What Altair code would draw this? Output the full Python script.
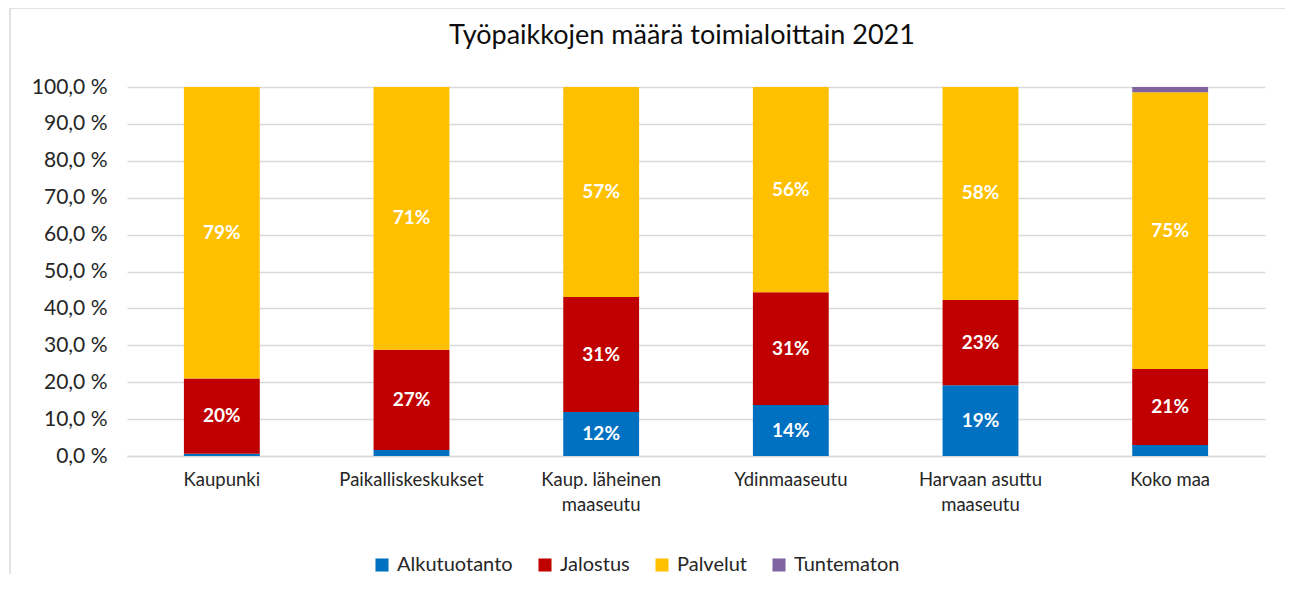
import altair as alt
import pandas as pd

categories = ["Kaupunki", "Paikalliskeskukset", "Kaup. läheinen maaseutu",
              "Ydinmaaseutu", "Harvaan asuttu maaseutu", "Koko maa"]
series = ["Alkutuotanto", "Jalostus", "Palvelut", "Tuntematon"]
alkutuotanto = [0.6, 1.6, 11.9, 13.8, 19.2, 3.0]
jalostus = [20.4, 27.2, 31.2, 30.6, 23.1, 20.6]
palvelut = [79.0, 71.2, 56.9, 55.6, 57.7, 75.0]
tuntematon = [0.0, 0.0, 0.0, 0.0, 0.0, 1.4]
colors = ["#0070C0", "#C00000", "#FFC000", "#8064A2"]
y_ticks = [0, 10, 20, 30, 40, 50, 60, 70, 80, 90, 100]
title_text = "Työpaikkojen määrä toimialoittain 2021"

rows = []
values = [alkutuotanto, jalostus, palvelut, tuntematon]
for i, cat in enumerate(categories):
    cum = 0.0
    for s, vals in zip(series, values):
        v = vals[i]
        rows.append({"cat": cat, "series": s, "value": v, "start": cum,
                     "end": cum + v, "mid": cum + v / 2,
                     "label": f"{round(v)}%"})
        cum += v
df = pd.DataFrame(rows)

FONT = "Lato"
W, H = 1138, 369

x_axis = alt.Axis(labelAngle=0, labelFontSize=18.5, labelFont=FONT,
                  labelColor="#262626", domainColor="#d9d9d9",
                  domainWidth=1.5, ticks=False, labelPadding=14,
                  labelLineHeight=25, title=None,
                  labelExpr="datum.label == 'Kaup. läheinen maaseutu' ? ['Kaup. läheinen', 'maaseutu'] : datum.label == 'Harvaan asuttu maaseutu' ? ['Harvaan asuttu', 'maaseutu'] : datum.label")
y_axis = alt.Axis(values=y_ticks, labelFontSize=21, labelFont=FONT,
                  labelColor="#262626", domain=False, ticks=False,
                  labelPadding=20, gridColor="#d9d9d9", gridWidth=1.5,
                  labelOverlap=False, title=None,
                  labelExpr="replace(format(datum.value, '.1f'), '.', ',') + ' %'")
x_scale = alt.Scale(paddingInner=0.6, paddingOuter=0.3)
y_scale = alt.Scale(domain=[0, 100], nice=False)

bars = alt.Chart(df).mark_bar().encode(
    x=alt.X("cat:N", sort=categories, title=None, scale=x_scale, axis=x_axis),
    y=alt.Y("start:Q", title=None, scale=y_scale, axis=y_axis),
    y2="end:Q",
    color=alt.Color("series:N", sort=series,
                    scale=alt.Scale(domain=series, range=colors),
                    legend=alt.Legend(title=None, orient="none", direction="horizontal",
                                      legendX=245, legendY=468, columns=4,
                                      symbolType="square", symbolSize=170,
                                      symbolStrokeWidth=0, labelFontSize=20,
                                      labelFont=FONT, labelColor="#262626",
                                      columnPadding=22, labelOffset=5)),
    order=alt.Order("start:Q"),
)

labels = alt.Chart(df).transform_filter(
    "datum.value >= 10"
).mark_text(color="white", fontWeight="bold", fontSize=19, font=FONT,
            baseline="middle").encode(
    x=alt.X("cat:N", sort=categories, title=None, scale=x_scale, axis=x_axis),
    y=alt.Y("mid:Q", title=None, scale=y_scale, axis=y_axis),
    text="label:N",
)

frame = alt.Chart(pd.DataFrame({"k": [0]})).mark_rect(
    fill=None, stroke="#d9d9d9", strokeWidth=1.5, clip=False
).encode(x=alt.value(-117), x2=alt.value(W + 80), y=alt.value(-79), y2=alt.value(H + 160))

title = alt.Chart(pd.DataFrame({"t": [title_text]})).mark_text(
    fontSize=27, font=FONT, color="#0d0d0d", align="center", baseline="alphabetic"
).encode(x=alt.value(W / 2 - 14), y=alt.value(-43), text="t:N")

chart = alt.layer(frame, bars, labels, title).properties(
    width=W, height=H,
    autosize=alt.AutoSizeParams(type="none"),
    padding={"left": 119, "top": 79, "right": 20, "bottom": 118},
).configure_view(stroke=None)

chart.save("out.html", embed_options={"renderer": "svg", "actions": False})
